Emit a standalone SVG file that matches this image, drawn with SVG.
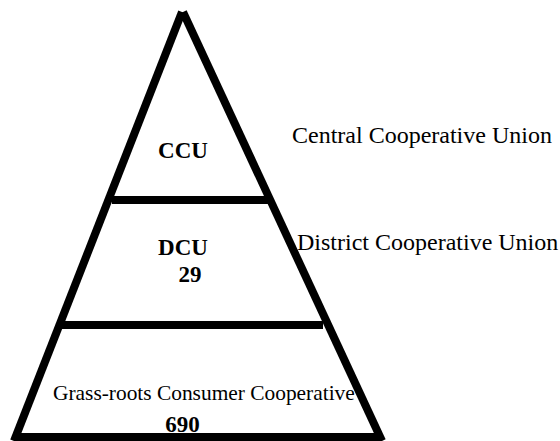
<svg xmlns="http://www.w3.org/2000/svg" width="560" height="441" viewBox="0 0 560 441">
<style>
.e{stroke:#000;stroke-width:8;stroke-linecap:butt;fill:none}
text{fill:#000}
.b{font-weight:bold;font-size:23px;text-anchor:middle}
.r{font-size:24px}
</style>
<rect width="560" height="441" fill="#fff"/>
<g id="connectors">
<line class="e" x1="182" y1="12" x2="14" y2="441"/>
<line class="e" x1="183" y1="12" x2="382" y2="441"/>
<line class="e" x1="112" y1="200" x2="268" y2="200"/>
<line class="e" x1="62" y1="325" x2="323" y2="325"/>
<line class="e" x1="16" y1="437" x2="378" y2="437"/>
</g>
<g font-family="Liberation Serif, Tinos, Times New Roman, DejaVu Serif, serif">
<g id="ccu"><text class="b" x="183" y="158">CCU</text></g>
<g id="dcu"><text class="b" x="183" y="255">DCU</text><text class="b" x="190" y="282">29</text></g>
<g id="grassroots"><text x="53" y="400" font-size="21.4">Grass-roots Consumer Cooperative</text><text class="b" x="182.5" y="432">690</text></g>
<g id="label-central"><text class="r" x="292" y="143">Central Cooperative Union</text></g>
<g id="label-district"><text class="r" x="297" y="250">District Cooperative Union</text></g>
</g>
</svg>
